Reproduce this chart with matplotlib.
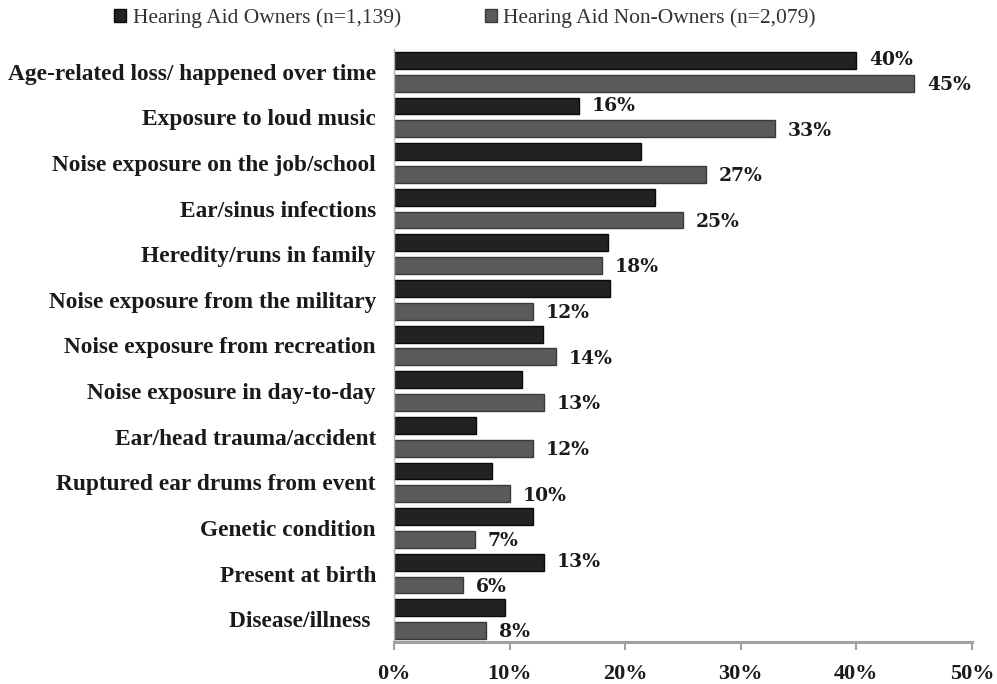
import matplotlib
matplotlib.use("Agg")
import matplotlib.pyplot as plt
from matplotlib.patches import Patch
from matplotlib.ticker import FuncFormatter
import numpy as np

categories = [
    "Age-related loss/ happened over time",
    "Exposure to loud music",
    "Noise exposure on the job/school",
    "Ear/sinus infections",
    "Heredity/runs in family",
    "Noise exposure from the military",
    "Noise exposure from recreation",
    "Noise exposure in day-to-day",
    "Ear/head trauma/accident",
    "Ruptured ear drums from event",
    "Genetic condition",
    "Present at birth",
    "Disease/illness ",
]
owners = [40, 16, 21.4, 22.6, 18.5, 18.7, 12.9, 11.1, 7.1, 8.5, 12, 13, 9.6]
non_owners = [45, 33, 27, 25, 18, 12, 14, 13, 12, 10, 7, 6, 8]
owners_labelled = ["Age-related loss/ happened over time",
                   "Exposure to loud music",
                   "Present at birth"]
series_names = ["Hearing Aid Owners (n=1,139)",
                "Hearing Aid Non-Owners (n=2,079)"]
x_ticks = [0, 10, 20, 30, 40, 50]

owner_color = "#222222"
non_owner_color = "#5a5a5a"
serif = ["Liberation Serif", "DejaVu Serif"]

fig = plt.figure(figsize=(9.97, 6.84), dpi=100)
ax = fig.add_axes([394 / 997, 42 / 684, 578 / 997, 593 / 684])

y = np.arange(len(categories))
h = 0.37
off = 0.25
ax.barh(y - off, owners, height=h, color=owner_color,
        edgecolor="#0a0a0a", linewidth=1.0)
ax.barh(y + off, non_owners, height=h, color=non_owner_color,
        edgecolor="#3a3a3a", linewidth=1.0)

label_font = dict(family=["DejaVu Serif"], fontweight="bold",
                  fontsize=13.5, color="#1a1a1a", va="center", ha="left")
for i, cat in enumerate(categories):
    if cat in owners_labelled:
        ax.text(owners[i] + 1.1, y[i] - off, f"{owners[i]:.0f}%", **label_font)
    ax.text(non_owners[i] + 1.1, y[i] + off + 0.04, f"{non_owners[i]:.0f}%",
            **label_font)

ax.set_xlim(0, 50)
ax.set_ylim(len(categories) - 0.5, -0.5)
ax.set_xticks(x_ticks)
ax.xaxis.set_major_formatter(FuncFormatter(lambda v, p: f"{v:.0f}%"))
ax.set_yticks(y)
ax.set_yticklabels(categories)

for lab in ax.get_yticklabels():
    lab.set_family(serif)
    lab.set_fontweight("bold")
    lab.set_fontsize(16.8)
    lab.set_color("#1a1a1a")
for lab in ax.get_xticklabels():
    lab.set_family(serif)
    lab.set_fontweight("bold")
    lab.set_fontsize(16)
    lab.set_color("#1a1a1a")

ax.tick_params(axis="y", length=0, pad=13)
ax.tick_params(axis="x", direction="out", length=6, width=1.5,
               color="#a0a0a0", pad=10)
for side in ("top", "right"):
    ax.spines[side].set_visible(False)
ax.spines["bottom"].set_color("#a0a0a0")
ax.spines["bottom"].set_linewidth(2.2)
ax.spines["left"].set_color("#b5b5b5")
ax.spines["left"].set_linewidth(1.0)

handles = [Patch(facecolor=owner_color, edgecolor="#0a0a0a"),
           Patch(facecolor=non_owner_color, edgecolor="#3a3a3a")]
fig.legend(handles, series_names, loc="center", bbox_to_anchor=(465 / 997, 1 - 18 / 684),
           ncol=2, frameon=False, handlelength=0.55, handleheight=0.55,
           handletextpad=0.3, columnspacing=3.9,
           prop=dict(family=serif, size=15.5), labelcolor="#333333")

fig.savefig("out.png", dpi=100, facecolor="white")
